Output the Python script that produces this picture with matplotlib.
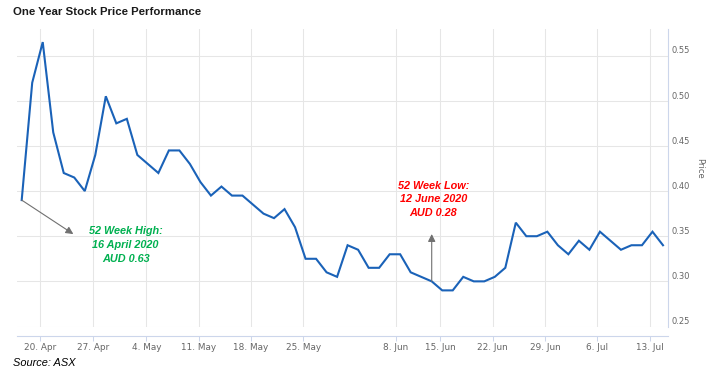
import numpy as np
import matplotlib
matplotlib.use("Agg")
import matplotlib.pyplot as plt
import matplotlib.transforms as mtransforms

# ---- data ----
prices = [0.39, 0.52, 0.565, 0.465, 0.42, 0.415, 0.40, 0.44, 0.505, 0.475,
          0.48, 0.44, 0.43, 0.42, 0.445, 0.445, 0.43, 0.41, 0.395, 0.405,
          0.395, 0.395, 0.385, 0.375, 0.37, 0.38, 0.36, 0.325, 0.325, 0.31,
          0.305, 0.34, 0.335, 0.315, 0.315, 0.33, 0.33, 0.31, 0.305, 0.30,
          0.29, 0.29, 0.305, 0.30, 0.30, 0.305, 0.315, 0.365, 0.35, 0.35,
          0.355, 0.34, 0.33, 0.345, 0.335, 0.355, 0.345, 0.335, 0.34, 0.34,
          0.355, 0.34]
x_labels = ["20. Apr", "27. Apr", "4. May", "11. May", "18. May", "25. May",
            "8. Jun", "15. Jun", "22. Jun", "29. Jun", "6. Jul", "13. Jul"]
y_ticks = [0.25, 0.30, 0.35, 0.40, 0.45, 0.50, 0.55]
high_text = "52 Week High:\n16 April 2020\nAUD 0.63"
low_text = "52 Week Low:\n12 June 2020\nAUD 0.28"
high_idx = 0
low_idx = 39

# ---- layout (trading-day ordinal axis) ----
tick_pos = [1.77, 6.81, 11.85, 16.86, 21.78, 26.79, 35.57, 39.82, 44.8, 49.8, 54.75, 59.76]

W, H = 715, 382
fig = plt.figure(figsize=(W / 100, H / 100), dpi=100)
ax = fig.add_axes([17 / W, 1 - 326.5 / H, (668 - 17) / W, (326.5 - 29) / H])

x = np.arange(len(prices))
ax.plot(x, prices, color="#1a62b8", lw=1.5, solid_joinstyle="miter", zorder=3)

ax.set_xlim(-0.447, len(prices) - 1 + 0.476)
ax.set_ylim(0.25, 0.5795)

grid_c = "#e6e6e6"
axis_c = "#ccd6eb"
ax.set_xticks(tick_pos)
ax.set_xticklabels(x_labels)
ax.set_yticks(y_ticks)
ax.set_yticklabels([])
ax.grid(True, color=grid_c, lw=0.75, zorder=0)
ax.tick_params(axis="y", length=0)
ax.tick_params(axis="x", length=3.6, color=axis_c, width=0.75, pad=1.8,
               labelsize=6.4, labelcolor="#666666")

for s in ["left", "top"]:
    ax.spines[s].set_visible(False)
ax.spines["right"].set_color(axis_c)
ax.spines["right"].set_linewidth(0.8)
ax.spines["bottom"].set_color(axis_c)
ax.spines["bottom"].set_linewidth(0.8)
ax.spines["bottom"].set_position(("outward", 6.8))

# right-side y labels
trans = mtransforms.blended_transform_factory(ax.transAxes, ax.transData)
off = mtransforms.ScaledTranslation(4 / 100, 4.7 / 100, fig.dpi_scale_trans)
for v in y_ticks:
    ax.text(1, v, f"{v:.2f}", transform=trans + off, ha="left", va="center",
            fontsize=6.0, color="#666666")

fig.text(699.3 / W, 1 - 168.3 / H, "Price", rotation=270, ha="center", va="center",
         fontsize=6.0, color="#666666")

# annotations
arrow_kw = dict(arrowstyle="-|>", color="#707070", lw=0.8, mutation_scale=11,
                shrinkA=0, shrinkB=0)
ax.annotate("", xy=(4.91, 0.3524), xytext=(high_idx, prices[high_idx]),
            arrowprops=arrow_kw, zorder=4)
ax.annotate("", xy=(low_idx, 0.3524), xytext=(low_idx, prices[low_idx]),
            arrowprops=arrow_kw, zorder=4)

ax.text(9.89, 0.3403, high_text, ha="center", va="center", color="#00b050",
        fontsize=7.8, fontweight="bold", fontstyle="italic",
        family="Liberation Sans", linespacing=1.45, zorder=5)
ax.text(39.15, 0.3908, low_text, ha="center", va="center", color="#ff0000",
        fontsize=7.8, fontweight="bold", fontstyle="italic",
        family="Liberation Sans", linespacing=1.45, zorder=5)

fig.text(12.7 / W, 1 - 12.3 / H, "One Year Stock Price Performance", ha="left",
         va="center", fontsize=8.2, fontweight="bold", family="Liberation Sans",
         color="#1a1a1a")
fig.text(12.7 / W, 1 - 363.3 / H, "Source: ASX", ha="left", va="center",
         fontsize=7.9, fontstyle="italic", family="Liberation Sans", color="#000000")

fig.savefig("out.png", dpi=100)
